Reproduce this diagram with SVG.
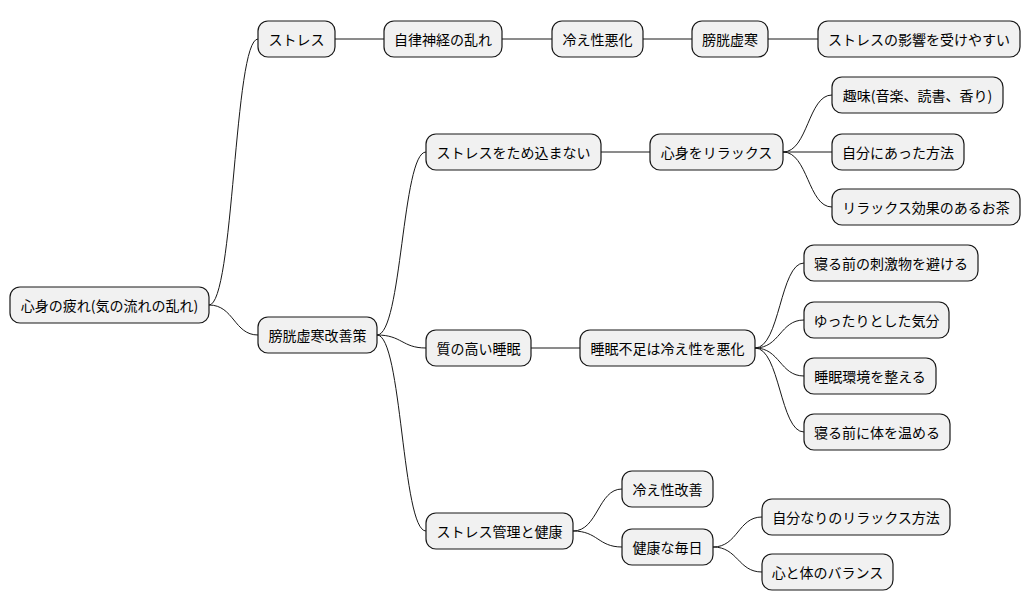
<svg xmlns="http://www.w3.org/2000/svg" width="1031" height="612" viewBox="0 0 1031 612">
<style>
.n rect{fill:#f1f1f1;stroke:#181818;stroke-width:1.2}
.n text{font-family:"Noto Sans CJK JP","Liberation Sans",sans-serif;font-size:14px;fill:#000;text-anchor:middle;dominant-baseline:central}
#edges path{fill:none;stroke:#181818;stroke-width:1}
</style>
<rect width="1031" height="612" fill="#fff"/>
<g id="edges">
<path d="M209,305 C234,305 234,39 258,39"/>
<path d="M335,39 H384"/>
<path d="M502,39 H552"/>
<path d="M643,39 H692"/>
<path d="M768,39 H818"/>
<path d="M209,305 C234,305 234,335 258,335"/>
<path d="M377,335 C402,335 402,152 426,152"/>
<path d="M601,152 H650"/>
<path d="M783,152 C808,152 808,95 832,95"/>
<path d="M783,152 H832"/>
<path d="M783,152 C808,152 808,207 832,207"/>
<path d="M377,335 C402,335 402,348 426,348"/>
<path d="M531,348 H580"/>
<path d="M755,348 C780,348 780,263 804,263"/>
<path d="M755,348 C780,348 780,320 804,320"/>
<path d="M755,348 C780,348 780,376 804,376"/>
<path d="M755,348 C780,348 780,432 804,432"/>
<path d="M377,335 C402,335 402,531 426,531"/>
<path d="M573,531 C598,531 598,489 622,489"/>
<path d="M573,531 C598,531 598,547 622,547"/>
<path d="M713,547 C738,547 738,517 762,517"/>
<path d="M713,547 C738,547 738,572 762,572"/>
</g>
<g id="root" class="n"><rect x="10" y="287" width="199" height="36" rx="10"/><text x="109.5" y="305">心身の疲れ(気の流れの乱れ)</text></g>
<g id="n1" class="n"><rect x="258" y="21" width="77" height="36" rx="10"/><text x="296.5" y="39">ストレス</text></g>
<g id="n2" class="n"><rect x="384" y="21" width="118" height="36" rx="10"/><text x="443" y="39">自律神経の乱れ</text></g>
<g id="n3" class="n"><rect x="552" y="21" width="91" height="36" rx="10"/><text x="597.5" y="39">冷え性悪化</text></g>
<g id="n4" class="n"><rect x="692" y="21" width="76" height="36" rx="10"/><text x="730" y="39">膀胱虚寒</text></g>
<g id="n5" class="n"><rect x="818" y="21" width="202" height="36" rx="10"/><text x="919" y="39">ストレスの影響を受けやすい</text></g>
<g id="n6" class="n"><rect x="258" y="317" width="119" height="36" rx="10"/><text x="317.5" y="335">膀胱虚寒改善策</text></g>
<g id="n7" class="n"><rect x="426" y="134" width="175" height="36" rx="10"/><text x="513.5" y="152">ストレスをため込まない</text></g>
<g id="n8" class="n"><rect x="650" y="134" width="133" height="36" rx="10"/><text x="716.5" y="152">心身をリラックス</text></g>
<g id="n9" class="n"><rect x="832" y="77" width="171" height="36" rx="10"/><text x="917.5" y="95">趣味(音楽、読書、香り)</text></g>
<g id="n10" class="n"><rect x="832" y="134" width="132" height="36" rx="10"/><text x="898" y="152">自分にあった方法</text></g>
<g id="n11" class="n"><rect x="832" y="189" width="188" height="36" rx="10"/><text x="926" y="207">リラックス効果のあるお茶</text></g>
<g id="n12" class="n"><rect x="426" y="330" width="105" height="36" rx="10"/><text x="478.5" y="348">質の高い睡眠</text></g>
<g id="n13" class="n"><rect x="580" y="330" width="175" height="36" rx="10"/><text x="667.5" y="348">睡眠不足は冷え性を悪化</text></g>
<g id="n14" class="n"><rect x="804" y="245" width="174" height="36" rx="10"/><text x="891" y="263">寝る前の刺激物を避ける</text></g>
<g id="n15" class="n"><rect x="804" y="302" width="145" height="36" rx="10"/><text x="876.5" y="320">ゆったりとした気分</text></g>
<g id="n16" class="n"><rect x="804" y="358" width="132" height="36" rx="10"/><text x="870" y="376">睡眠環境を整える</text></g>
<g id="n17" class="n"><rect x="804" y="414" width="146" height="36" rx="10"/><text x="877" y="432">寝る前に体を温める</text></g>
<g id="n18" class="n"><rect x="426" y="513" width="147" height="36" rx="10"/><text x="499.5" y="531">ストレス管理と健康</text></g>
<g id="n19" class="n"><rect x="622" y="471" width="91" height="36" rx="10"/><text x="667.5" y="489">冷え性改善</text></g>
<g id="n20" class="n"><rect x="622" y="529" width="91" height="36" rx="10"/><text x="667.5" y="547">健康な毎日</text></g>
<g id="n21" class="n"><rect x="762" y="499" width="188" height="36" rx="10"/><text x="856" y="517">自分なりのリラックス方法</text></g>
<g id="n22" class="n"><rect x="762" y="554" width="131" height="36" rx="10"/><text x="827.5" y="572">心と体のバランス</text></g>
</svg>
